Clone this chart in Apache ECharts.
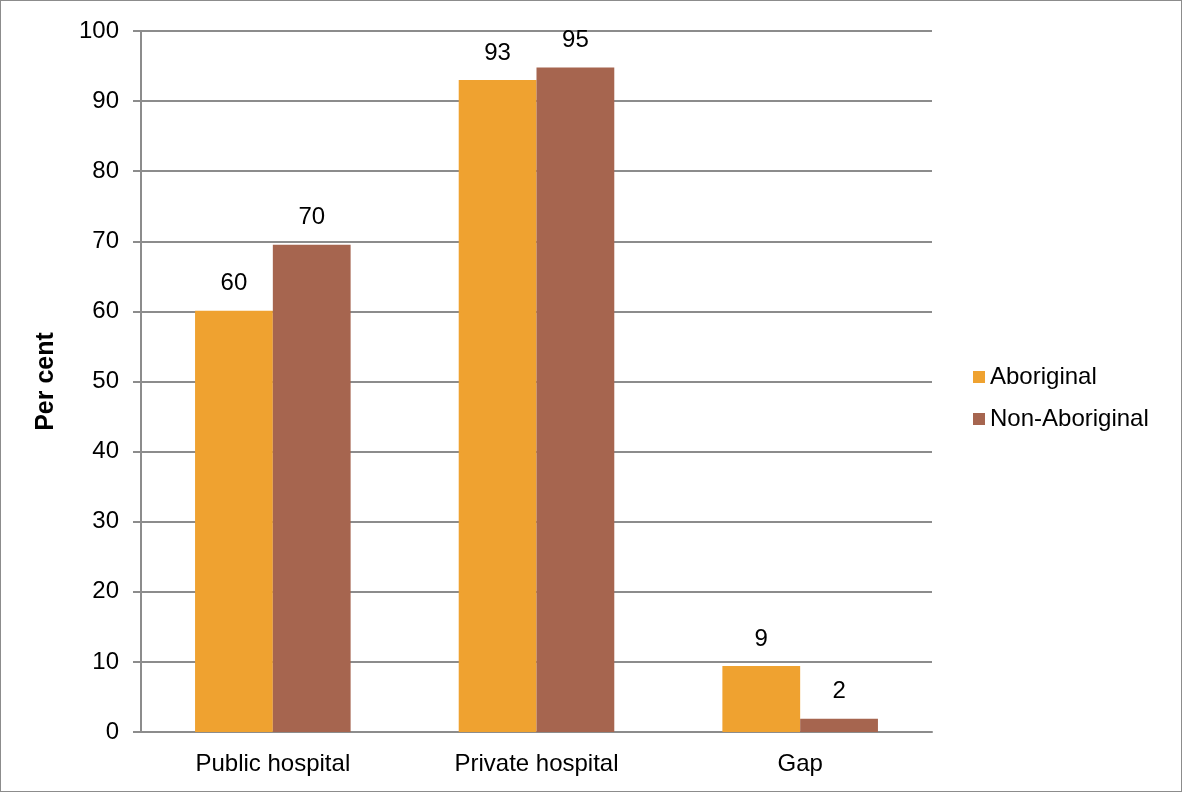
<!DOCTYPE html>
<html>
<head>
<meta charset="utf-8">
<script src="https://cdn.jsdelivr.net/npm/echarts@6/dist/echarts.min.js"></script>
<style>
  html, body { margin: 0; padding: 0; background: #fff; }
  #chart { width: 1180px; height: 790px; border: 1px solid #8c8c8c; }
</style>
</head>
<body>
<div id="chart"></div>
<script>
  const categories = ['Public hospital', 'Private hospital', 'Gap'];
  const aboriginal = [60.1, 93.0, 9.4];
  const nonAboriginal = [69.5, 94.8, 1.9];
  const yTicks = { min: 0, max: 100, interval: 10 };

  const myChart = echarts.init(document.getElementById('chart'));

  const labelOpt = {
    show: true,
    position: 'top',
    distance: 15,
    color: '#000',
    fontSize: 24,
    fontFamily: 'Liberation Sans, Arial, sans-serif',
    formatter: (p) => Math.round(p.value),
  };

  myChart.setOption({
    animation: false,
    textStyle: { fontFamily: 'Liberation Sans, Arial, sans-serif' },
    grid: { left: 140, right: 249, top: 30, bottom: 59 },
    legend: {
      orient: 'vertical',
      left: 967,
      top: 359,
      itemWidth: 12,
      itemHeight: 12,
      itemGap: 18,
      icon: 'rect',
      textStyle: { fontSize: 24, color: '#000' },
      data: ['Aboriginal', 'Non-Aboriginal'],
    },
    xAxis: {
      type: 'category',
      data: categories,
      axisLine: { lineStyle: { color: '#8c8c8c', width: 2 } },
      axisTick: { show: false },
      axisLabel: { color: '#000', fontSize: 24, margin: 20 },
    },
    yAxis: {
      type: 'value',
      min: yTicks.min,
      max: yTicks.max,
      interval: yTicks.interval,
      name: 'Per cent',
      nameLocation: 'middle',
      nameGap: 82,
      nameTextStyle: { fontSize: 25, fontWeight: 'bold', color: '#000' },
      axisLine: { show: true, lineStyle: { color: '#8c8c8c', width: 2 } },
      axisTick: { show: true, length: 8, lineStyle: { color: '#8c8c8c', width: 2 } },
      axisLabel: { color: '#000', fontSize: 24, margin: 22 },
      splitLine: { lineStyle: { color: '#8c8c8c', width: 2 } },
    },
    series: [
      {
        name: 'Aboriginal',
        type: 'bar',
        data: aboriginal,
        barGap: '0%',
        barCategoryGap: '41%',
        itemStyle: { color: '#EFA230' },
        label: labelOpt,
      },
      {
        name: 'Non-Aboriginal',
        type: 'bar',
        data: nonAboriginal,
        itemStyle: { color: '#A6654F' },
        label: labelOpt,
      },
    ],
  });
</script>
</body>
</html>
